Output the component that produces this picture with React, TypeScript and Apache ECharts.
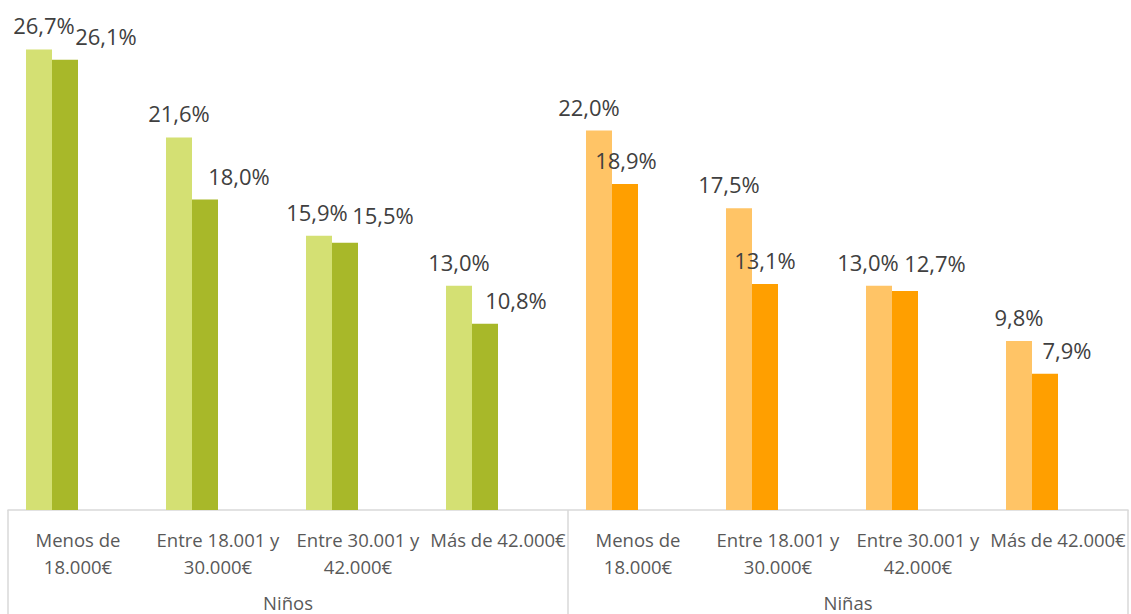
import React, { useEffect, useRef } from "react";
import * as echarts from "echarts";

const groups = ["Niños", "Niñas"];
const incomeBands = ["Menos de\n18.000€", "Entre 18.001 y\n30.000€", "Entre 30.001 y\n42.000€", "Más de 42.000€"];
const categories = [...incomeBands, ...incomeBands];

const ninosLight = [26.7, 21.6, 15.9, 13.0];
const ninosDark = [26.1, 18.0, 15.5, 10.8];
const ninasLight = [22.0, 17.5, 13.0, 9.8];
const ninasDark = [18.9, 13.1, 12.7, 7.9];

// label placement tweaks (style only)
const lightLabelShift = [[5, 0], [0, 0], [-2, 0], [0, 0], [-10, 0], [-10, 0], [-11, 0], [0, 0]];
const darkLabelShift = [[41, 0], [34, 0], [38, -4], [31, 0], [1, 0], [0, 0], [30, -4], [22, 0]];

const GREEN_LIGHT = "#D4E073";
const GREEN_DARK = "#A8B829";
const ORANGE_LIGHT = "#FFC466";
const ORANGE_DARK = "#FF9F00";

const FONT = "'Open Sans', sans-serif";

const fmt = (p: any) => Number(p.value).toFixed(1).replace(".", ",") + "%";

function buildData(ninos: number[], ninas: number[], cGreen: string, cOrange: string, shifts: number[][]) {
  const vals = [...ninos, ...ninas];
  return vals.map((v, i) => ({
    value: v,
    itemStyle: { color: i < ninos.length ? cGreen : cOrange },
    label: { offset: shifts[i] },
  }));
}

export default function App() {
  const ref = useRef<HTMLDivElement>(null);
  useEffect(() => {
    if (!ref.current) return;
    const chart = echarts.init(ref.current, null, { renderer: "svg" });
    const label = {
      show: true,
      position: "top",
      distance: 13,
      formatter: fmt,
      fontSize: 22,
      color: "#404040",
      fontFamily: FONT,
    };
    chart.setOption({
      animation: false,
      backgroundColor: "#ffffff",
      grid: { left: 8, right: 3, top: 27, bottom: 104, containLabel: false },
      xAxis: [
        {
          type: "category",
          data: categories,
          position: "bottom",
          axisLine: { show: true, lineStyle: { color: "#D9D9D9", width: 1.5 } },
          axisTick: { show: false },
          axisLabel: {
            interval: 0,
            margin: 16,
            fontSize: 18.5,
            lineHeight: 27,
            color: "#595959",
            fontFamily: FONT,
          },
        },
        {
          type: "category",
          data: groups,
          position: "bottom",
          offset: 0,
          axisLine: { show: false },
          axisTick: { show: true, interval: 0, length: 104, lineStyle: { color: "#D9D9D9", width: 1.5 } },
          axisLabel: { interval: 0, margin: 82, fontSize: 18.5, lineHeight: 20, color: "#595959", fontFamily: FONT },
        },
      ],
      yAxis: {
        type: "value",
        min: 0,
        max: 28,
        show: false,
        splitLine: { show: false },
      },
      series: [
        {
          type: "bar",
          name: "light",
          barWidth: 26,
          barGap: 0,
          data: buildData(ninosLight, ninasLight, GREEN_LIGHT, ORANGE_LIGHT, lightLabelShift),
          label,
        },
        {
          type: "bar",
          name: "dark",
          barWidth: 26,
          barGap: 0,
          data: buildData(ninosDark, ninasDark, GREEN_DARK, ORANGE_DARK, darkLabelShift),
          label,
        },
        { type: "bar", name: "empty1", barWidth: 26, barGap: 0, data: [] },
        { type: "bar", name: "empty2", barWidth: 26, barGap: 0, data: [] },
      ],
    });
    return () => chart.dispose();
  }, []);
  return (
    <div
      ref={ref}
      style={{ position: "fixed", left: 0, top: 0, width: 1131, height: 614, background: "#fff" }}
    />
  );
}
